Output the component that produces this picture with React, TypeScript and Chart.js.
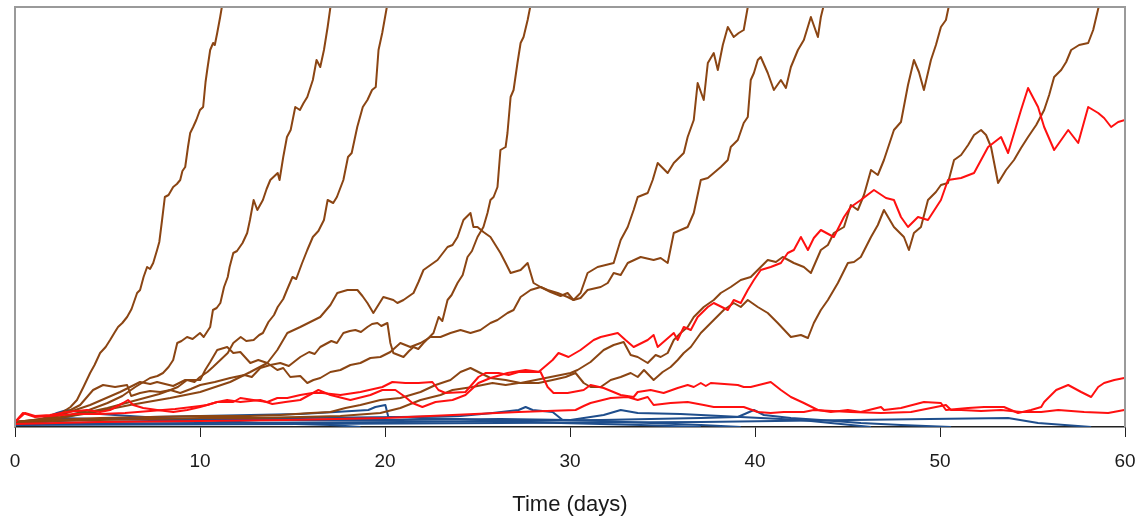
import { useEffect, useRef } from "react";
import { Chart, registerables } from "chart.js";

Chart.register(...registerables);

type P = [number, number][];

const xTickValues = [0, 10, 20, 30, 40, 50, 60];
const xTitle = "Time (days)";

// ---- brown trajectories ----
const brown1: P = [[0,5],[1,6],[2,10],[2.5,14],[3,20],[3.35,27],[3.7,40],[4.06,54],[4.3,62],[4.6,74],[4.9,80],[5.14,87],[5.4,95],[5.57,100],[5.8,104],[6.06,110],[6.3,118],[6.6,134],[6.76,137],[6.95,150],[7.14,160],[7.3,158],[7.47,164],[7.68,177],[7.8,185],[7.95,207],[8.1,230],[8.3,232],[8.55,240],[8.75,243],[8.93,247],[9.05,256],[9.2,260],[9.35,280],[9.47,294],[9.63,300],[9.8,307],[10.0,317],[10.17,320],[10.3,345],[10.39,357],[10.55,377],[10.71,384],[10.8,382],[10.93,394],[11.09,410],[11.2,422],[11.3,436]];
const brown2: P = [[0,5],[1,6],[2,8],[3,12],[4,17],[5,24],[5.8,31],[6.5,40],[7.3,49],[7.7,51],[8.0,54],[8.3,60],[8.55,67],[8.77,84],[9.0,86],[9.3,90],[9.6,88],[10,94],[10.2,90],[10.55,100],[10.7,117],[10.9,119],[11.1,124],[11.3,140],[11.5,150],[11.6,160],[11.8,174],[12.0,176],[12.3,184],[12.55,194],[12.7,207],[12.9,227],[13.1,217],[13.4,227],[13.6,238],[13.8,247],[14.2,254],[14.3,247],[14.5,270],[14.7,290],[14.9,297],[15.15,320],[15.4,317],[15.6,324],[15.8,330],[16.1,347],[16.3,367],[16.5,360],[16.7,377],[16.9,400],[17.05,420],[17.15,436]];
const brown3: P = [[0,5],[1,6],[2,8],[3,11],[4,15],[5,19],[6,24],[7,29],[7.8,33],[8.4,37],[8.8,40],[9.3,47],[9.7,45],[10,50],[10.4,55],[10.7,60],[11.1,67],[11.5,74],[11.8,84],[12.2,90],[12.5,86],[12.9,87],[13.2,92],[13.4,94],[13.7,105],[14.0,112],[14.2,120],[14.5,128],[14.7,137],[15.0,150],[15.2,148],[15.5,163],[15.8,177],[16.1,190],[16.4,196],[16.7,207],[16.9,227],[17.2,224],[17.4,230],[17.75,247],[18.0,270],[18.2,274],[18.5,300],[18.8,320],[19.05,327],[19.3,337],[19.5,340],[19.65,377],[19.85,394],[20.1,420],[20.2,436]];
const brown4: P = [[0,5],[1,7],[2,10],[2.8,15],[3.52,22],[4.22,37],[4.76,42],[5.41,40],[6.06,42],[6.28,31],[6.76,34],[7.3,36],[7.85,35],[8.4,37],[8.93,34],[9.5,38],[10.01,42],[10.8,45],[11.63,49],[12.4,52],[12.8,50],[13.26,59],[13.8,62],[14.34,64],[14.8,61],[15.42,70],[15.9,75],[16.2,73],[16.5,80],[17.1,86],[17.4,84],[17.75,94],[18.1,96],[18.4,97],[18.7,95],[19.05,100],[19.3,103],[19.59,104],[19.8,101],[20.13,104],[20.29,84],[20.45,74],[21.0,70],[21.3,76],[21.54,80],[21.8,78],[22.08,84],[22.3,88],[22.62,94],[22.9,110],[23.1,106],[23.38,127],[23.6,132],[23.92,144],[24.2,152],[24.46,170],[24.7,176],[25.0,190],[25.32,200],[25.54,214],[25.7,227],[25.87,230],[26.08,240],[26.24,277],[26.52,280],[26.62,294],[26.79,330],[26.95,337],[27.16,364],[27.33,384],[27.49,390],[27.71,407],[27.87,422],[27.95,436]];
const brown5: P = [[0,5],[2,8],[4.06,14],[6.22,22],[8.39,29],[10.01,35],[11.63,45],[12.72,55],[13.64,64],[14.18,77],[14.72,94],[15.42,100],[15.96,105],[16.5,110],[17.05,122],[17.42,134],[17.97,137],[18.51,137],[18.78,131],[19.05,124],[19.37,114],[19.64,122],[19.91,130],[20.45,127],[20.67,124],[21.0,127],[21.54,134],[21.81,145],[22.08,157],[22.46,162],[22.84,167],[23.38,180],[23.65,182],[23.92,190],[24.24,207],[24.62,214],[24.78,200],[25.0,200],[25.32,195],[25.7,190],[25.97,182],[26.24,174],[26.52,164],[26.79,154],[27.33,157],[27.71,164],[28.03,144],[28.41,140],[28.79,137],[29.33,134],[29.87,130],[30.19,127],[30.57,134],[30.95,154],[31.49,160],[31.93,162],[32.36,164],[32.74,187],[33.12,200],[33.44,217],[33.66,230],[34.2,234],[34.47,247],[34.74,264],[35.28,254],[35.61,264],[36.15,274],[36.36,290],[36.69,307],[36.9,344],[37.23,327],[37.45,364],[37.77,374],[37.99,357],[38.26,382],[38.53,400],[38.85,390],[39.12,394],[39.39,397],[39.61,420],[39.7,436]];
const brown6: P = [[0,5],[2,9],[4.06,22],[5.68,35],[6.76,45],[7.31,43],[7.68,45],[8.55,41],[9.2,47],[10.01,47],[10.28,57],[10.55,65],[10.93,77],[11.47,80],[11.8,74],[12.18,75],[12.72,64],[13.15,67],[13.64,64],[14.18,57],[14.5,59],[14.88,50],[15.42,51],[15.8,44],[16.13,47],[16.5,49],[17.05,55],[17.59,57],[18.13,62],[18.67,64],[19.21,69],[19.75,70],[20.29,75],[20.83,84],[21.37,80],[21.92,84],[22.46,90],[23.0,90],[23.54,94],[24.08,97],[24.62,94],[25.16,97],[25.7,104],[26.08,107],[26.62,114],[26.95,117],[27.33,130],[27.87,137],[28.41,140],[28.95,135],[29.49,131],[29.87,134],[30.19,127],[30.57,129],[30.95,137],[31.66,140],[32.04,144],[32.36,154],[32.74,152],[33.12,164],[33.82,170],[34.52,167],[34.9,169],[35.28,164],[35.61,194],[35.98,197],[36.36,200],[36.69,214],[37.07,247],[37.45,249],[37.77,254],[38.15,260],[38.53,267],[38.69,280],[39.07,287],[39.39,304],[39.61,310],[39.77,347],[39.94,354],[40.15,367],[40.31,370],[40.69,354],[41.02,337],[41.4,347],[41.67,339],[41.94,360],[42.32,377],[42.64,387],[43.02,410],[43.4,390],[43.56,410],[43.72,422],[43.8,436]];
const brown7: P = [[0,4],[2,7],[4.6,9],[7.31,10],[10.01,11],[12.72,11],[14.34,12],[16.0,14],[17.05,15],[17.86,19],[18.67,22],[19.75,27],[20.83,29],[21.92,35],[22.73,42],[23.54,47],[24.08,55],[24.62,59],[25.05,55],[25.7,49],[26.52,47],[27.33,44],[28.14,47],[28.95,50],[29.49,52],[30.03,54],[30.41,57],[31.11,65],[31.82,77],[32.36,82],[32.9,85],[33.28,72],[33.66,70],[34.2,64],[34.63,72],[34.9,70],[35.28,74],[35.61,87],[35.98,94],[36.36,100],[36.69,110],[37.23,120],[37.77,127],[38.15,134],[38.69,140],[39.23,147],[39.77,150],[40.31,160],[40.69,167],[41.13,165],[41.5,170],[42.1,164],[42.64,160],[43.02,154],[43.56,177],[43.94,182],[44.26,194],[44.81,200],[45.18,222],[45.56,217],[45.89,232],[46.27,257],[46.64,252],[46.97,267],[47.51,297],[47.89,305],[48.27,342],[48.59,367],[48.86,355],[49.13,337],[49.51,367],[49.78,382],[50.05,400],[50.32,407],[50.49,422],[50.6,436]];
const brown8: P = [[0,3],[2,6],[4.6,7],[7.31,8],[10.01,9],[12.72,9],[15.42,10],[17.59,11],[19.75,14],[20.83,19],[21.92,27],[23.0,32],[23.65,37],[24.73,40],[25.81,44],[26.52,42],[27.22,44],[28.3,44],[29.06,47],[29.76,50],[30.3,54],[30.74,44],[31.11,40],[31.66,40],[32.2,47],[32.74,50],[33.28,54],[33.66,50],[34.0,57],[34.52,47],[35.01,55],[35.44,60],[35.82,67],[36.15,74],[36.53,80],[37.07,94],[37.77,107],[38.31,117],[38.85,124],[39.23,120],[39.61,127],[40.15,120],[40.69,114],[41.23,104],[41.94,90],[42.48,92],[42.86,89],[43.18,104],[43.56,117],[43.94,127],[44.48,144],[45.02,164],[45.35,165],[45.72,170],[46.27,190],[46.64,202],[46.97,217],[47.51,200],[48.05,190],[48.32,177],[48.59,194],[48.97,200],[49.35,227],[49.78,235],[50.05,242],[50.43,244],[50.76,267],[51.14,272],[51.52,282],[51.84,292],[52.22,297],[52.49,292],[52.76,280],[53.14,244],[53.57,257],[54.0,267],[54.38,279],[54.76,290],[55.2,302],[55.63,317],[55.9,332],[56.17,350],[56.55,357],[56.82,365],[57.09,377],[57.52,382],[58.01,384],[58.28,397],[58.6,422],[58.7,436]];

// ---- red trajectories ----
const red1: P = [[0,5],[0.54,14],[1.08,11],[1.89,12],[2.81,15],[3.9,17],[4.6,15],[5.14,17],[5.84,24],[6.11,27],[6.39,22],[6.93,19],[7.68,17],[8.55,15],[9.31,17],[10.01,20],[10.93,25],[11.8,25],[12.18,29],[12.88,27],[13.64,25],[14.18,29],[14.72,29],[15.42,32],[16.07,34],[16.61,34],[17.59,32],[18.67,35],[19.86,40],[20.4,45],[21.1,44],[21.81,44],[22.56,45],[22.89,37],[23.27,34],[24.35,35],[25.05,50],[25.43,54],[26.14,54],[26.68,52],[27.22,55],[28.3,55],[29.06,67],[29.38,74],[29.92,70],[30.57,77],[31.28,87],[31.66,90],[32.58,94],[33.0,87],[33.44,80],[34.2,87],[34.52,92],[34.74,80],[35.61,94],[35.82,87],[36.15,100],[36.53,97],[36.9,110],[37.45,120],[37.77,124],[38.53,117],[38.85,127],[39.23,124],[39.61,137],[39.94,147],[40.31,157],[40.85,160],[41.4,164],[41.77,174],[42.1,177],[42.48,190],[42.86,177],[43.18,189],[43.56,197],[44.26,190],[44.81,210],[45.18,220],[45.72,227],[46.43,237],[47.08,229],[47.51,227],[47.89,210],[48.27,200],[48.81,210],[49.35,207],[50.05,227],[50.43,247],[51.14,249],[51.84,254],[52.6,280],[53.3,290],[53.68,274],[54.38,317],[54.76,339],[55.3,320],[55.63,300],[56.17,277],[56.55,287],[56.93,297],[57.47,284],[58.01,320],[58.55,314],[58.87,309],[59.25,300],[59.63,305],[60,307]];
const red2: P = [[0,5],[0.43,14],[1.08,10],[1.89,11],[3.25,13],[4.6,13],[5.95,14],[7.31,16],[8.66,18],[10.01,21],[10.39,22],[10.93,25],[11.47,27],[12.18,25],[13.26,27],[13.91,23],[14.61,25],[15.42,27],[16.4,37],[17.05,32],[18.13,27],[19.21,32],[19.86,37],[20.56,37],[21.1,30],[21.48,24],[22.02,20],[22.73,25],[23.65,27],[24.35,32],[25.05,44],[25.7,49],[26.62,54],[27.6,57],[28.41,55],[28.79,40],[29.11,34],[29.87,34],[30.74,37],[31.11,42],[31.82,39],[32.74,32],[33.44,30],[33.66,35],[34.36,37],[35.06,34],[35.82,39],[36.36,42],[36.69,40],[37.07,44],[37.34,41],[37.61,44],[39.07,42],[39.39,40],[39.77,40],[40.85,45],[41.4,37],[41.94,30],[42.64,24],[43.4,17],[44.1,15],[45.02,17],[45.72,15],[46.81,20],[46.97,17],[47.89,19],[49.13,25],[50.05,24],[50.32,17],[51.52,19],[52.38,20],[53.46,20],[54.22,14],[54.92,17],[55.47,20],[55.63,25],[56.28,37],[56.93,42],[57.63,35],[58.17,30],[58.55,40],[58.87,44],[59.42,47],[59.96,49],[60,49]];
const red3: P = [[0,3],[4.6,5],[10.01,6],[14.61,7],[20.02,9],[23.65,12],[27.22,15],[30.3,17],[30.74,21],[31.11,24],[32.2,29],[33.12,30],[33.66,27],[34.2,30],[34.52,22],[35.44,24],[36.36,25],[37.23,22],[37.77,20],[39.39,20],[40.15,15],[40.85,14],[41.56,15],[42.64,15],[43.18,17],[45.18,15],[46.81,14],[48.43,15],[49.51,19],[50.32,22],[50.6,17],[51.14,17],[52.22,16],[53.3,17],[54.38,15],[55.47,15],[56.39,17],[57.79,15],[59.09,14],[59.96,17],[60,17]];

// ---- blue trajectories ----
const blue1: P = [[0,3],[1.35,7],[2.27,14],[2.81,17],[3.52,15],[4.6,13],[6.22,11],[7.85,9],[10.01,7],[13.26,4],[17.05,2],[18.67,0]];
const blue2: P = [[0,3],[2.44,6],[4.6,8],[7.31,10],[10.01,11],[12.72,12],[15.42,13],[17.32,15],[19.1,17],[19.48,20],[20.02,22],[20.18,10],[21.92,9],[24.08,8],[26.24,6],[29.49,4],[33.82,2],[37.07,0]];
const blue3: P = [[0,2],[4.6,5],[10.01,7],[15.42,9],[20.83,10],[24.08,11],[25.81,14],[27.22,17],[27.6,20],[27.98,17],[29.06,15],[29.6,7],[31.66,6],[34.36,4],[37.07,2],[39.23,0]];
const blue4: P = [[0,4],[2.44,9],[4.6,8],[10.01,8],[15.42,7],[20.83,7],[26.24,8],[30.03,7],[31.82,12],[32.74,17],[33.66,14],[35.98,13],[38.15,11],[40.31,9],[42.48,7],[44.64,3],[46.27,0]];
const blue5: P = [[0,3],[10.01,4],[20.83,5],[26.24,6],[31.66,7],[37.07,9],[39.07,10],[39.94,17],[40.48,12],[41.94,9],[43.56,7],[45.72,4],[47.89,2],[50.6,0]];
const blue6: P = [[0,2],[15.42,3],[26.24,4],[37.07,5],[45.18,7],[53.68,9],[55.3,4],[58.17,0]];

const brownSeries = [brown1, brown2, brown3, brown4, brown5, brown6, brown7, brown8];
const redSeries = [red1, red2, red3];
const blueSeries = [blue1, blue2, blue3, blue4, blue5, blue6];

const BROWN = "#8B4513";
const RED = "#FF1010";
const BLUE = "#1F4E8C";
const FONT = "'Liberation Sans', Arial, Helvetica, sans-serif";

export default function App() {
  const ref = useRef<HTMLCanvasElement>(null);

  useEffect(() => {
    document.body.style.margin = "0";
    const canvas = ref.current;
    if (!canvas) return;

    const framePlugin = {
      id: "frame",
      afterDatasetsDraw(chart: any) {
        const { ctx, chartArea } = chart;
        const { left, top, right, bottom } = chartArea;
        ctx.save();
        ctx.strokeStyle = "#9a9a9a";
        ctx.lineWidth = 2;
        ctx.beginPath();
        ctx.moveTo(left, bottom);
        ctx.lineTo(left, top);
        ctx.lineTo(right, top);
        ctx.lineTo(right, bottom);
        ctx.stroke();
        ctx.restore();
      },
    };

    const mk = (pts: P, color: string) => ({
      data: pts.map(([x, y]) => ({ x, y })),
      borderColor: color,
      backgroundColor: color,
      borderWidth: 2,
      pointRadius: 0,
      pointHoverRadius: 0,
      tension: 0,
      fill: false,
      borderJoinStyle: "round" as const,
    });

    const chart = new Chart(canvas, {
      type: "line",
      data: {
        datasets: [
          ...redSeries.map((s) => mk(s, RED)),
          ...brownSeries.map((s) => mk(s, BROWN)),
          ...blueSeries.map((s) => mk(s, BLUE)),
        ],
      },
      options: {
        animation: false,
        responsive: false,
        events: [],
        layout: { padding: { left: 15, right: 11, top: 7, bottom: 0 } },
        plugins: {
          legend: { display: false },
          tooltip: { enabled: false },
        },
        scales: {
          x: {
            type: "linear",
            min: 0,
            max: 60,
            afterBuildTicks: (scale: any) => {
              scale.ticks = xTickValues.map((v) => ({ value: v }));
            },
            afterFit: (scale: any) => {
              scale.height = 93;
              scale.paddingLeft = 0;
              scale.paddingRight = 0;
            },
            ticks: {
              font: { family: FONT, size: 19 },
              color: "#1a1a1a",
              padding: 13,
              maxRotation: 0,
              autoSkip: false,
            },
            grid: {
              drawOnChartArea: false,
              drawTicks: true,
              tickLength: 10,
              color: "#222",
              lineWidth: 1,
            },
            border: { display: true, color: "#222", width: 1.5 },
            title: {
              display: true,
              text: xTitle,
              font: { family: FONT, size: 22 },
              color: "#1a1a1a",
              padding: { top: 0, bottom: 2 },
            },
          },
          y: {
            type: "linear",
            min: 0,
            max: 420,
            display: false,
          },
        },
      },
      plugins: [framePlugin],
    });

    return () => chart.destroy();
  }, []);

  return <canvas ref={ref} width={1136} height={520} style={{ display: "block" }} />;
}
